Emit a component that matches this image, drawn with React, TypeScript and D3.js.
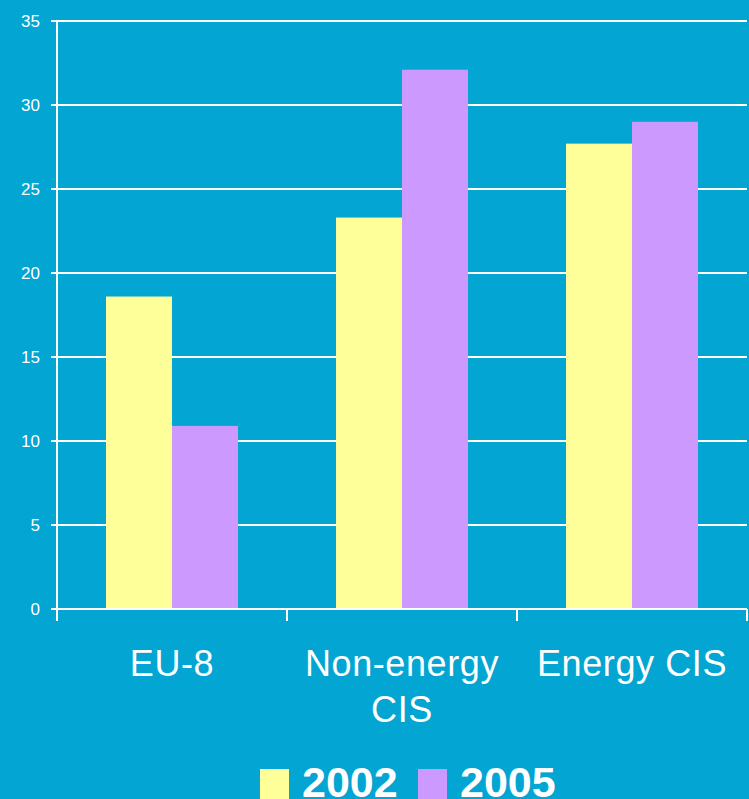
import * as d3 from "d3";

const categories = ["EU-8", "Non-energy CIS", "Energy CIS"];
const categoryLines = [["EU-8"], ["Non-energy", "CIS"], ["Energy CIS"]];
const seriesNames = ["2002", "2005"];
const values2002 = [18.6, 23.3, 27.7];
const values2005 = [10.9, 32.1, 29.0];
const yTicks = [0, 5, 10, 15, 20, 25, 30, 35];

const colors: Record<string, string> = { "2002": "#FFFF99", "2005": "#CC99FF" };
const BG = "#03A5D3";
const W = 749;
const H = 799;

export default function App() {
  const y = d3.scaleLinear().domain([0, 35]).range([609, 21]);
  const x = d3.scaleBand<string>().domain(categories).range([57, 747]);
  const xs = d3
    .scaleBand<string>()
    .domain(seriesNames)
    .range([0, x.bandwidth()])
    .paddingOuter(0.742);

  const rows = categories.map((c, i) => ({
    cat: c,
    vals: [
      { s: "2002", v: values2002[i] },
      { s: "2005", v: values2005[i] },
    ],
  }));

  const font = "'Liberation Sans', Arial, sans-serif";
  const bounds = [...categories.map((c) => x(c)!), 747];

  return (
    <svg
      width={W}
      height={H}
      style={{ position: "absolute", left: 0, top: 0, display: "block", background: BG }}
    >
      <rect width={W} height={H} fill={BG} />
      {/* gridlines */}
      {yTicks.filter((t) => t > 0).map((t) => (
        <line key={t} x1={57} x2={747} y1={y(t)} y2={y(t)} stroke="#fff" strokeWidth={2} />
      ))}
      {/* bars */}
      {rows.map((r) =>
        r.vals.map((d) => (
          <rect
            key={r.cat + d.s}
            x={x(r.cat)! + xs(d.s)!}
            y={y(d.v)}
            width={xs.bandwidth()}
            height={y(0) - y(d.v)}
            fill={colors[d.s]}
          />
        ))
      )}
      {/* axes */}
      <line x1={57} x2={747} y1={y(0)} y2={y(0)} stroke="#fff" strokeWidth={2} />
      <line x1={57} x2={57} y1={y(35)} y2={621} stroke="#fff" strokeWidth={2} />
      {yTicks.map((t) => (
        <g key={t}>
          <line x1={51} x2={57} y1={y(t)} y2={y(t)} stroke="#fff" strokeWidth={2} />
          <text
            x={40}
            y={y(t)}
            dy="0.36em"
            textAnchor="end"
            fill="#fff"
            fontSize={17}
            fontFamily={font}
          >
            {t}
          </text>
        </g>
      ))}
      {bounds.map((b) => (
        <line key={b} x1={b} x2={b} y1={y(0)} y2={621} stroke="#fff" strokeWidth={2} />
      ))}
      {/* category labels */}
      {categories.map((c, i) => (
        <text
          key={c}
          x={x(c)! + x.bandwidth() / 2}
          y={676}
          textAnchor="middle"
          fill="#fff"
          fontSize={36}
          letterSpacing={0.6}
          fontFamily={font}
        >
          {categoryLines[i].map((ln, j) => (
            <tspan key={j} x={x(c)! + x.bandwidth() / 2} dy={j === 0 ? 0 : 46}>
              {ln}
            </tspan>
          ))}
        </text>
      ))}
      {/* legend */}
      {seriesNames.map((s, i) => {
        const lx = 260 + i * 158;
        return (
          <g key={s}>
            <rect x={lx} y={769} width={29} height={30} fill={colors[s]} />
            <text
              x={lx + 42}
              y={797}
              fill="#fff"
              fontSize={43}
              fontWeight="bold"
              fontFamily={font}
            >
              {s}
            </text>
          </g>
        );
      })}
    </svg>
  );
}
